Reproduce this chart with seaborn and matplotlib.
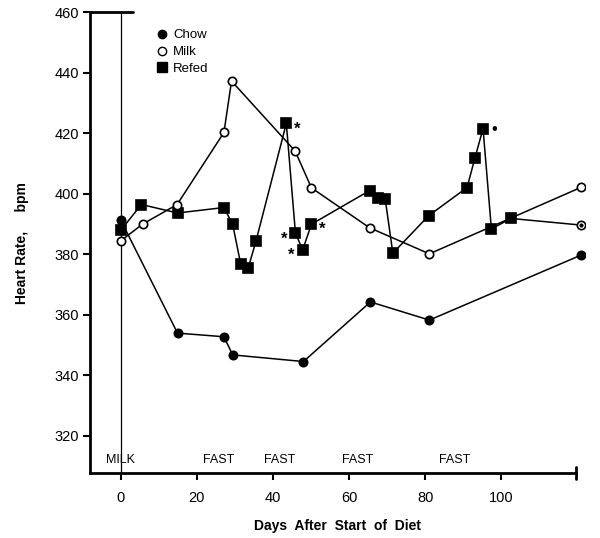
import matplotlib

matplotlib.use("Agg")
import matplotlib.pyplot as plt
import pandas as pd
import seaborn as sns

sns.set_theme(style="white")
plt.rcParams["font.family"] = ["Liberation Sans", "DejaVu Sans"]
plt.rcParams["text.color"] = "black"
plt.rcParams["axes.labelcolor"] = "black"

# values (days, heart rate in bpm)
chow_days = [0, 14.9, 27.1, 29.4, 48.0, 65.6, 81.1, 121.0]
chow_bpm = [391.3, 354.0, 352.8, 346.8, 344.6, 364.3, 358.3, 379.8]

milk_days = [0, 5.7, 14.8, 27.1, 29.1, 45.8, 50.1, 65.4, 81.1, 121.0]
milk_bpm = [384.5, 390.0, 396.5, 420.3, 437.3, 414.2, 402.0, 388.8, 380.2, 402.2]

refed_days = [0, 5.4, 14.9, 27.1, 29.4, 31.5, 33.5, 35.5, 43.5, 45.9, 47.8, 50.1,
              65.4, 67.5, 69.5, 71.5, 80.9, 91.0, 93.1, 95.2, 97.4, 102.5, 121.0]
refed_bpm = [388.0, 396.5, 393.7, 395.5, 389.9, 376.9, 375.6, 384.3, 423.3, 387.0,
             381.5, 390.0, 401.1, 398.5, 398.2, 380.4, 392.8, 402.1, 412.0, 421.6,
             388.4, 391.9, 389.7]

# refed points flagged with an asterisk: (index into refed arrays, side)
star_idx = [8, 9, 10, 11]
star_side = [1, -1, -1, 1]
dot_idx = [19]

period_labels = ["MILK", "FAST", "FAST", "FAST", "FAST"]
period_days = [0, 25.7, 41.7, 62.3, 87.7]

y_ticks = list(range(320, 461, 20))
x_ticks = list(range(0, 101, 20))

df = pd.concat([
    pd.DataFrame({"day": chow_days, "bpm": chow_bpm, "group": "Chow"}),
    pd.DataFrame({"day": milk_days, "bpm": milk_bpm, "group": "Milk"}),
    pd.DataFrame({"day": refed_days, "bpm": refed_bpm, "group": "Refed"}),
])

fig = plt.figure(figsize=(6, 5.38), dpi=100)
ax = fig.add_axes([0.15, 0.121, 0.825, 0.856])

xmin, xmax = -8.1, 122
ymin, ymax = 307.8, 460

ax.axvline(0, color="black", lw=0.9, zorder=1)

styles = {
    "Chow": dict(marker="o", markersize=6, markerfacecolor="black"),
    "Milk": dict(marker="o", markersize=6, markerfacecolor="white"),
    "Refed": dict(marker="s", markersize=6.5, markerfacecolor="black"),
}
for name in ["Refed", "Chow", "Milk"]:
    sub = df[df["group"] == name]
    n = len(sub)
    every = list(range(n - 1)) if name == "Refed" else None
    sns.lineplot(
        data=sub, x="day", y="bpm", sort=False, estimator=None, color="black",
        lw=1.1, markeredgecolor="black", markeredgewidth=1.2, ax=ax,
        markevery=every, zorder=3, **styles[name],
    )

# last refed point drawn as an open circle with a dot
ax.plot(refed_days[-1], refed_bpm[-1], marker="o", ms=6, mfc="white",
        mec="black", mew=1.2, ls="none", zorder=4)
ax.plot(refed_days[-1], refed_bpm[-1], marker="o", ms=2, color="black",
        ls="none", zorder=5)

for i, s in zip(star_idx, star_side):
    ax.annotate("*", xy=(refed_days[i], refed_bpm[i]), xytext=(8 * s, -4),
                textcoords="offset points", ha="center", va="center",
                fontsize=12, fontweight="bold")
for i in dot_idx:
    ax.annotate("\u2022", xy=(refed_days[i], refed_bpm[i]), xytext=(8, -1),
                textcoords="offset points", ha="center", va="center",
                fontsize=12)

for lab, d in zip(period_labels, period_days):
    ax.text(d, 312.2, lab, ha="center", va="center", fontsize=9)

ax.set_xlim(xmin, xmax)
ax.set_ylim(ymin, ymax)
ax.set_xticks(x_ticks)
ax.set_yticks(y_ticks)
ax.tick_params(axis="both", direction="out", length=5, width=1.5,
               labelsize=10.5, color="black", labelcolor="black", pad=3,
               bottom=True, left=True)
ax.tick_params(axis="x", pad=8)

for side in ["top", "right"]:
    ax.spines[side].set_visible(False)
for side in ["left", "bottom"]:
    ax.spines[side].set_color("black")
    ax.spines[side].set_linewidth(2)
ax.spines["bottom"].set_bounds(xmin, 119.7)

# caps at the axis ends
ax.plot([xmin, 3.1], [ymax, ymax], color="black", lw=2, clip_on=False)
ax.plot([119.7, 119.7], [ymin - 2, ymin + 2], color="black", lw=2,
        clip_on=False)

ax.set_xlabel("Days  After  Start  of  Diet", fontsize=10, fontweight="bold",
              labelpad=10)
ax.set_ylabel("Heart Rate,     bpm", fontsize=10, fontweight="bold",
              labelpad=18)

handles = [
    plt.Line2D([], [], ls="none", color="black", **styles["Chow"]),
    plt.Line2D([], [], ls="none", color="black", markeredgecolor="black",
               **styles["Milk"]),
    plt.Line2D([], [], ls="none", color="black", **styles["Refed"]),
]
ax.legend(handles, ["Chow", "Milk", "Refed"], loc="upper left",
          bbox_to_anchor=(0.125, 0.975), frameon=False, fontsize=9.5,
          handlelength=0.8, handletextpad=0.4, labelspacing=0.35,
          borderaxespad=0)

fig.savefig("out.png", dpi=100)
